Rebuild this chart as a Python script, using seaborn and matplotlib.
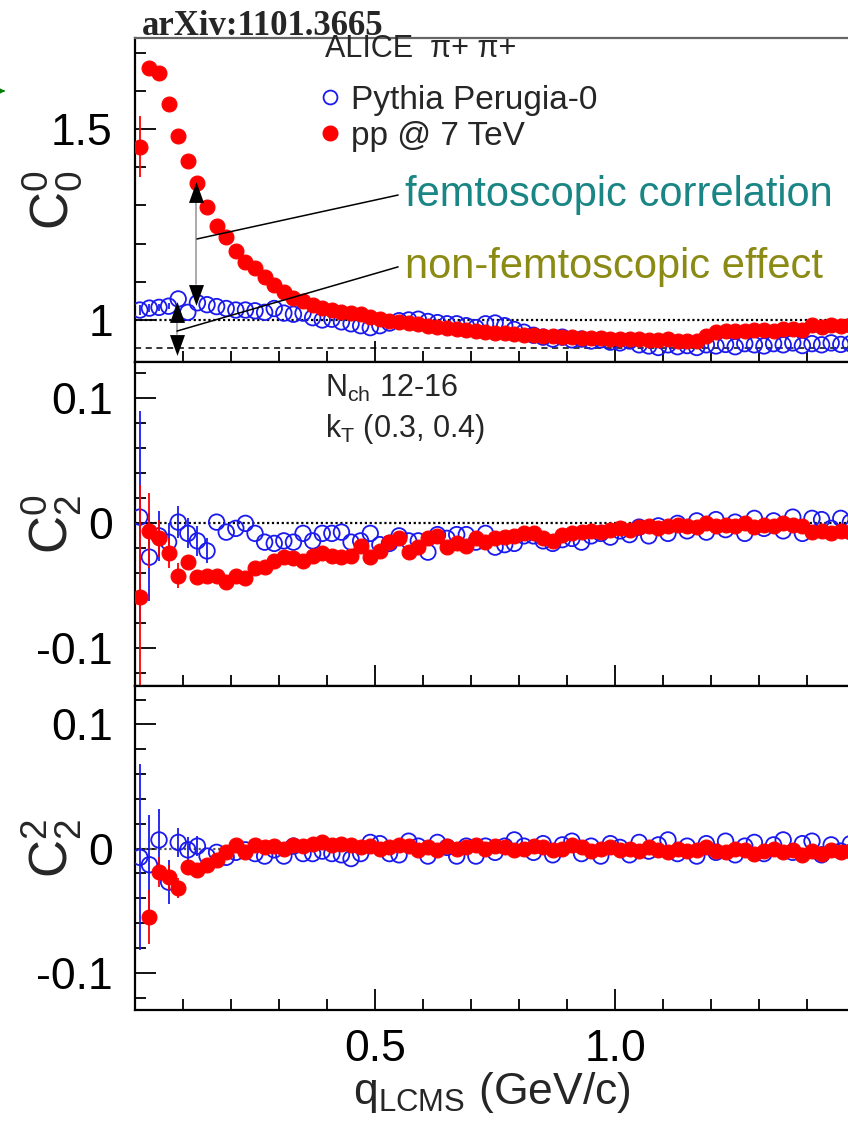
import numpy as np
import pandas as pd
import matplotlib
matplotlib.use("Agg")
import matplotlib.pyplot as plt
from matplotlib.lines import Line2D
from matplotlib.patches import FancyArrowPatch
from matplotlib.ticker import FixedLocator, FixedFormatter, NullFormatter
import seaborn as sns

# ---------------- data ----------------
q = [0.01, 0.03, 0.05, 0.07, 0.09, 0.11, 0.13, 0.15, 0.17, 0.19,
     0.21, 0.23, 0.25, 0.27, 0.29, 0.31, 0.33, 0.35, 0.37, 0.39,
     0.41, 0.43, 0.45, 0.47, 0.49, 0.51, 0.53, 0.55, 0.57, 0.59,
     0.61, 0.63, 0.65, 0.67, 0.69, 0.71, 0.73, 0.75, 0.77, 0.79,
     0.81, 0.83, 0.85, 0.87, 0.89, 0.91, 0.93, 0.95, 0.97, 0.99,
     1.01, 1.03, 1.05, 1.07, 1.09, 1.11, 1.13, 1.15, 1.17, 1.19,
     1.21, 1.23, 1.25, 1.27, 1.29, 1.31, 1.33, 1.35, 1.37, 1.39,
     1.41, 1.43, 1.45, 1.47, 1.49]

c00_pythia = [1.026, 1.031, 1.033, 1.036, 1.055, 1.020, 1.045, 1.040, 1.035, 1.030,
              1.026, 1.026, 1.024, 1.020, 1.030, 1.018, 1.015, 1.018, 1.006, 1.000,
              1.002, 0.995, 0.990, 0.985, 0.980, 0.985, 0.992, 0.998, 1.000, 1.002,
              0.996, 0.993, 0.990, 0.990, 0.985, 0.980, 0.990, 0.992, 0.985, 0.975,
              0.968, 0.960, 0.955, 0.950, 0.955, 0.948, 0.950, 0.945, 0.948, 0.942,
              0.940, 0.945, 0.935, 0.932, 0.928, 0.935, 0.930, 0.933, 0.928, 0.935,
              0.932, 0.936, 0.930, 0.938, 0.935, 0.932, 0.938, 0.935, 0.940, 0.933,
              0.938, 0.935, 0.940, 0.936, 0.938]
c00_pp = [1.453, 1.660, 1.647, 1.565, 1.482, 1.416, 1.358, 1.296, 1.246, 1.217,
          1.181, 1.152, 1.136, 1.113, 1.092, 1.073, 1.058, 1.050, 1.040, 1.032,
          1.027, 1.022, 1.018, 1.015, 1.008, 1.003, 0.998, 0.995, 0.992, 0.990,
          0.985, 0.982, 0.980, 0.976, 0.973, 0.970, 0.968, 0.966, 0.965, 0.962,
          0.960, 0.961, 0.958, 0.957, 0.955, 0.956, 0.953, 0.954, 0.952, 0.950,
          0.951, 0.949, 0.950, 0.948, 0.947, 0.949, 0.946, 0.945, 0.944, 0.958,
          0.968, 0.970, 0.972, 0.970, 0.973, 0.975, 0.972, 0.976, 0.977, 0.975,
          0.986, 0.982, 0.986, 0.984, 0.986]

c20_pythia = [0.005, -0.027, -0.010, -0.015, 0.001, -0.008, -0.014, -0.022, 0.001, -0.007,
              -0.004, 0.000, -0.008, -0.015, -0.016, -0.014, -0.015, -0.008, -0.014, -0.008,
              -0.008, -0.007, -0.015, -0.014, -0.008, -0.017, -0.016, -0.010, -0.014, -0.014,
              -0.023, -0.009, -0.012, -0.009, -0.009, -0.015, -0.008, -0.019, -0.017, -0.016,
              -0.010, -0.010, -0.014, -0.016, -0.013, -0.012, -0.015, -0.010, -0.008, -0.011,
              -0.006, -0.009, -0.003, -0.010, -0.002, -0.008, 0.000, -0.006, 0.002, -0.007,
              0.003, -0.005, 0.001, -0.008, 0.004, -0.004, 0.002, -0.006, 0.005, -0.008,
              0.004, 0.003, -0.004, 0.004, 0.001]
c20_pp = [-0.059, -0.006, -0.012, -0.024, -0.042, -0.031, -0.043, -0.042, -0.042, -0.047,
          -0.042, -0.044, -0.036, -0.035, -0.030, -0.027, -0.028, -0.030, -0.026, -0.024,
          -0.026, -0.027, -0.026, -0.018, -0.027, -0.022, -0.015, -0.012, -0.023, -0.019,
          -0.012, -0.010, -0.019, -0.016, -0.018, -0.012, -0.015, -0.012, -0.011, -0.010,
          -0.008, -0.008, -0.012, -0.014, -0.009, -0.008, -0.007, -0.006, -0.007, -0.005,
          -0.004, -0.005, -0.003, -0.002, -0.004, -0.002, -0.001, -0.002, -0.003, 0.000,
          -0.002, -0.001, -0.002, 0.000, -0.003, -0.001, -0.002, 0.000, -0.001, -0.002,
          -0.007, -0.006, -0.008, -0.006, -0.007]

c22_pythia = [-0.007, -0.013, 0.007, -0.027, 0.005, -0.001, 0.002, -0.006, -0.003, -0.007,
              -0.003, -0.001, -0.004, -0.006, -0.001, -0.006, 0.002, -0.004, -0.004, -0.002,
              -0.004, -0.005, -0.008, -0.004, 0.005, 0.004, -0.004, -0.005, 0.006, 0.002,
              -0.006, 0.005, 0.001, -0.006, 0.002, -0.006, 0.002, -0.003, 0.002, 0.007,
              0.002, -0.003, 0.004, -0.005, 0.003, 0.006, -0.004, 0.002, -0.006, 0.004,
              0.001, -0.005, 0.005, -0.002, 0.003, 0.007, -0.004, 0.002, -0.006, 0.004,
              -0.003, 0.006, -0.005, 0.002, 0.005, -0.004, 0.003, 0.007, -0.003, 0.004,
              0.006, -0.005, 0.003, -0.002, 0.004]
c22_pp = [np.nan, -0.055, -0.019, -0.023, -0.032, -0.015, -0.017, -0.013, -0.009, -0.003,
          0.003, -0.003, 0.003, 0.001, 0.002, 0.000, 0.003, 0.002, 0.004, 0.005,
          0.003, 0.004, 0.003, 0.001, 0.002, 0.000, 0.001, 0.003, 0.002, -0.001,
          0.001, -0.001, 0.002, 0.000, 0.001, 0.003, 0.000, 0.002, 0.001, -0.001,
          0.000, 0.002, 0.001, -0.001, 0.000, 0.003, 0.001, -0.002, 0.000, 0.001,
          -0.001, 0.000, -0.002, 0.001, -0.001, -0.003, 0.000, -0.002, -0.001, 0.001,
          -0.002, -0.003, 0.000, -0.001, -0.004, -0.002, 0.000, -0.003, -0.001, -0.005,
          -0.002, -0.004, -0.001, -0.003, -0.002]

# statistical errors visible beyond the markers (first bins only)
c00_pythia_err = [0.012, 0.010, 0.010, 0.008]
c00_pp_err = [0.080, 0.015]
c20_pythia_err = [0.085, 0.035, 0.020, 0.015, 0.013, 0.012, 0.012, 0.010]
c20_pp_err = [0.090, 0.030, 0.015, 0.012, 0.010]
c22_pythia_err = [0.075, 0.040, 0.025, 0.018, 0.012, 0.010, 0.008]
c22_pp_err = [0.0, 0.022, 0.012, 0.010, 0.008]

series_labels = ["Pythia Perugia-0", "pp @ 7 TeV"]
ylabels = [r"$\mathrm{C}_{0}^{0}$", r"$\mathrm{C}_{2}^{0}$", r"$\mathrm{C}_{2}^{2}$"]
ylims = [(0.89, 1.738), (-0.130, 0.129), (-0.130, 0.131)]
ymajor = [[1.0, 1.5], [-0.1, 0.0, 0.1], [-0.1, 0.0, 0.1]]
ymajor_labels = [["1", "1.5"], ["-0.1", "0", "0.1"], ["-0.1", "0", "0.1"]]
yminor = [[1.1, 1.2, 1.3, 1.4, 1.6, 1.7],
          [-0.12, -0.08, -0.06, -0.04, -0.02, 0.02, 0.04, 0.06, 0.08, 0.12],
          [-0.12, -0.08, -0.06, -0.04, -0.02, 0.02, 0.04, 0.06, 0.08, 0.12]]
xmajor = [0.5, 1.0]
xmajor_labels = ["0.5", "1.0"]
xminor = [0.1, 0.2, 0.3, 0.4, 0.6, 0.7, 0.8, 0.9, 1.1, 1.2, 1.3, 1.4]
baselines = [1.0, 0.0, 0.0]
pythia_asymptote = 0.927

panels = []
for py, pp, e_py, e_pp in [(c00_pythia, c00_pp, c00_pythia_err, c00_pp_err),
                           (c20_pythia, c20_pp, c20_pythia_err, c20_pp_err),
                           (c22_pythia, c22_pp, c22_pythia_err, c22_pp_err)]:
    df = pd.concat([
        pd.DataFrame({"q": q, "value": py, "source": series_labels[0]}),
        pd.DataFrame({"q": q, "value": pp, "source": series_labels[1]}),
    ], ignore_index=True)
    panels.append((df, e_py, e_pp))

# ---------------- style ----------------
BLUE = "#1a1aee"
RED = "#ff0000"
TEAL = "#1a8585"
OLIVE = "#8a8a14"

sns.set_theme(style="white")
plt.rcParams["font.family"] = ["Liberation Sans", "DejaVu Sans"]
plt.rcParams["mathtext.fontset"] = "custom"
plt.rcParams["mathtext.rm"] = "Liberation Sans"
plt.rcParams["mathtext.it"] = "Liberation Sans:italic"
plt.rcParams["mathtext.bf"] = "Liberation Sans:bold"
plt.rcParams["axes.unicode_minus"] = False

W, H = 848, 1131
fig = plt.figure(figsize=(W / 100, H / 100), dpi=100)
fig.patch.set_facecolor("white")

left = 135 / W
top_px, bot_px = 38, 1010
ph = (bot_px - top_px) / 3
axes = []
for i in range(3):
    y0 = 1 - (top_px + ph * (i + 1)) / H
    ax = fig.add_axes([left, y0, 1 - left, ph / H])
    axes.append(ax)

for i, (ax, (df, e_py, e_pp)) in enumerate(zip(axes, panels)):
    ax.set_xlim(0.0, 1.485)
    ax.set_ylim(*ylims[i])
    ax.axhline(baselines[i], color="black" if i < 2 else "#555555",
               ls=(0, (1, 1.2)), lw=1.6, zorder=1)
    if i == 0:
        ax.axhline(pythia_asymptote, color="black", ls=(0, (4, 3)), lw=1.1, zorder=1)

    d_py = df[df["source"] == series_labels[0]]
    d_pp = df[df["source"] == series_labels[1]]
    ax.errorbar(d_py["q"].iloc[:len(e_py)], d_py["value"].iloc[:len(e_py)], yerr=e_py,
                fmt="none", ecolor=BLUE, elinewidth=1.3, zorder=2)
    sns.scatterplot(data=d_py, x="q", y="value", ax=ax, s=125, marker="o",
                    facecolor="none", edgecolor=BLUE, linewidth=1.3, zorder=3,
                    legend=False)
    ax.errorbar(d_pp["q"].iloc[:len(e_pp)], d_pp["value"].iloc[:len(e_pp)], yerr=e_pp,
                fmt="none", ecolor=RED, elinewidth=1.3, zorder=4)
    sns.scatterplot(data=d_pp, x="q", y="value", ax=ax, s=115, marker="o",
                    color=RED, edgecolor=RED, linewidth=0.8, zorder=5, legend=False)

    ax.set_xlabel("")
    ax.set_ylabel("")
    ax.yaxis.set_major_locator(FixedLocator(ymajor[i]))
    ax.yaxis.set_major_formatter(FixedFormatter(ymajor_labels[i]))
    ax.yaxis.set_minor_locator(FixedLocator(yminor[i]))
    ax.xaxis.set_major_locator(FixedLocator(xmajor))
    ax.xaxis.set_minor_locator(FixedLocator(xminor))
    if i < 2:
        ax.xaxis.set_major_formatter(NullFormatter())
    else:
        ax.xaxis.set_major_formatter(FixedFormatter(xmajor_labels))
    ax.tick_params(which="both", direction="in", left=True, bottom=True,
                   right=False, top=False, colors="black", width=1.3)
    ax.tick_params(which="major", length=15, labelsize=32, pad=16)
    ax.tick_params(which="minor", length=8)
    ax.tick_params(axis="x", which="major", pad=14)
    for s in ["left", "bottom", "top"]:
        ax.spines[s].set_visible(True)
        ax.spines[s].set_color("black")
        ax.spines[s].set_linewidth(1.6)
    ax.spines["right"].set_visible(False)
    ax.set_facecolor("white")

    fig.text(52 / W, 1 - (top_px + ph * (i + 0.5)) / H, ylabels[i], rotation=90,
             ha="center", va="center", fontsize=38)

axes[0].spines["top"].set_color("#666666")
axes[2].set_xlabel(r"q$_{\mathrm{LCMS}}$ (GeV/c)", fontsize=32, labelpad=0)

# ---------------- annotations, top panel ----------------
ax0 = axes[0]
femto_arrow_x, femto_top, femto_bot = 0.128, 1.361, 1.039
nonfemto_arrow_x, nonfemto_top, nonfemto_bot = 0.087, 1.047, 0.908
head_len = 0.054          # arrow head length in data units of the top panel
up_head = [(-0.36, -0.5), (0.36, -0.5), (0.0, 0.5), (-0.36, -0.5)]
down_head = [(-0.36, 0.5), (0.36, 0.5), (0.0, -0.5), (-0.36, 0.5)]
for ax_x, ytop, ybot in [(femto_arrow_x, femto_top, femto_bot),
                         (nonfemto_arrow_x, nonfemto_top, nonfemto_bot)]:
    ax0.plot([ax_x, ax_x], [ytop - head_len, ybot + head_len], color="#aaaaaa",
             lw=1.4, zorder=6)
    ax0.plot([ax_x], [ytop - head_len / 2], ls="none", marker=up_head, markersize=15,
             color="black", markeredgewidth=0, zorder=7)
    ax0.plot([ax_x], [ybot + head_len / 2], ls="none", marker=down_head, markersize=15,
             color="black", markeredgewidth=0, zorder=7)

ax0.plot([0.129, 0.548], [1.212, 1.327], color="black", lw=1.1, zorder=6)
ax0.plot([0.0875, 0.548], [0.971, 1.139], color="black", lw=1.1, zorder=6)
ax0.text(0.5625, 1.298, "femtoscopic correlation", color=TEAL, fontsize=30,
         ha="left", va="baseline")
ax0.text(0.5625, 1.110, "non-femtoscopic effect", color=OLIVE, fontsize=30,
         ha="left", va="baseline")

# legend
ax0.text((325 - 135) / (W - 135), 1 - (49 - 38) / ph, "ALICE  \u03c0+ \u03c0+",
         transform=ax0.transAxes, fontsize=22, ha="left", va="center")
handles = [Line2D([], [], ls="none", marker="o", markersize=10, markerfacecolor="none",
                  markeredgecolor=BLUE, markeredgewidth=1.3),
           Line2D([], [], ls="none", marker="o", markersize=10.5, markerfacecolor=RED,
                  markeredgecolor=RED)]
ax0.legend(handles, series_labels, loc="upper left",
           bbox_to_anchor=((318 - 135) / (W - 135), 1 - (85 - 38) / ph),
           frameon=False, fontsize=24, handlelength=0.7, handletextpad=0.3,
           labelspacing=0.15, borderpad=0, borderaxespad=0)

# middle panel info
ax1 = axes[1]
ax1.text((325 - 135) / (W - 135), 1 - (397 - 362) / ph, r"N$_{\mathrm{ch}}$ 12-16",
         transform=ax1.transAxes, fontsize=22, ha="left", va="baseline")
ax1.text((325 - 135) / (W - 135), 1 - (437 - 362) / ph, r"k$_{\mathrm{T}}$ (0.3, 0.4)",
         transform=ax1.transAxes, fontsize=22, ha="left", va="baseline")

# header
fig.text(142 / W, 1 - 35 / H, "arXiv:1101.3665", fontsize=25, fontweight="bold",
         family=["Liberation Serif", "DejaVu Serif"], ha="left", va="baseline")
fig.add_artist(FancyArrowPatch((0.0, 1 - 91 / H), (8 / W, 1 - 91 / H),
                               transform=fig.transFigure, arrowstyle="-|>",
                               color="green", mutation_scale=7, lw=1))

fig.savefig("out.png", dpi=100, facecolor="white")
